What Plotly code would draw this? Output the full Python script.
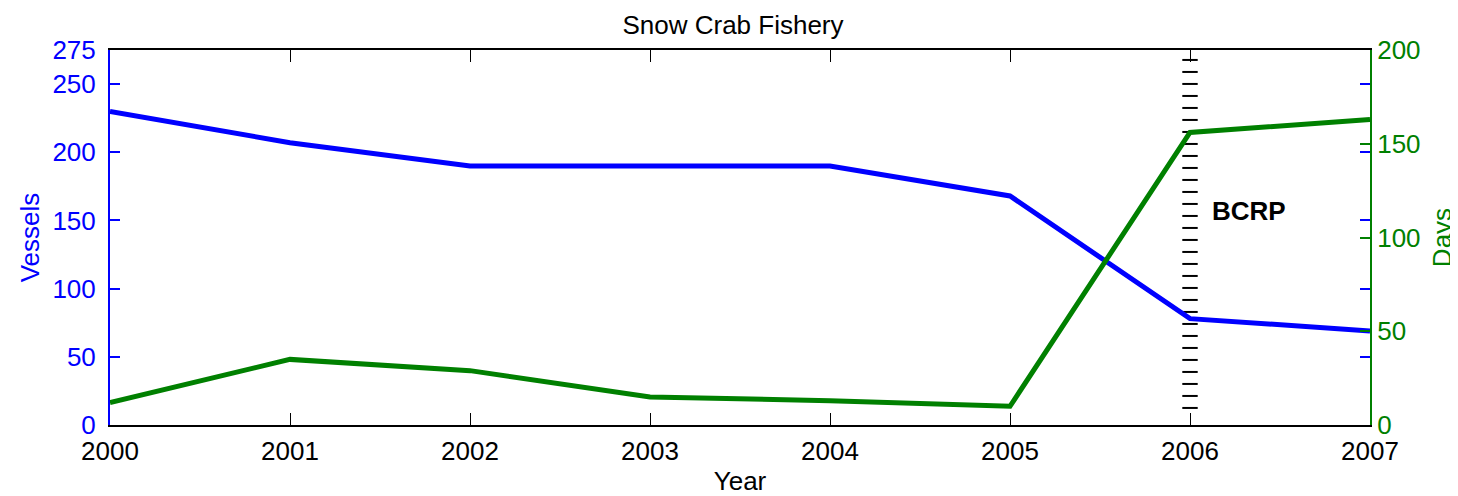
import plotly.graph_objects as go

years = [2000, 2001, 2002, 2003, 2004, 2005, 2006, 2007]
vessels = [230, 207, 190, 190, 190, 168, 78, 69]
days = [12, 35, 29, 15, 13, 10, 156, 163]

bcrp_year = 2006
bcrp_marks = [267.7, 258.9, 250.1, 241.3, 232.5, 223.7, 214.9, 206.1, 197.3, 188.5,
              179.7, 170.9, 162.1, 153.3, 144.5, 135.7, 126.9, 118.1, 109.3, 100.5,
              91.7, 82.9, 74.1, 65.3, 56.5, 47.7, 38.9, 30.1, 21.3, 12.5]

left_ticks = [0, 50, 100, 150, 200, 250, 275]
right_ticks = [0, 50, 100, 150, 200]

BLUE = "#0000ff"
GREEN = "#008000"
FONT = "Liberation Sans, Arial, Helvetica, sans-serif"
FS = 26

fig = go.Figure()
fig.add_trace(go.Scatter(x=[bcrp_year] * len(bcrp_marks), y=bcrp_marks, mode="markers",
                         marker=dict(symbol="line-ew", size=11, line=dict(color="black", width=2)),
                         showlegend=False, hoverinfo="skip"))
fig.add_trace(go.Scatter(x=years, y=vessels, mode="lines", line=dict(color=BLUE, width=5),
                         showlegend=False, name="Vessels"))
fig.add_trace(go.Scatter(x=years, y=days, mode="lines", line=dict(color=GREEN, width=5),
                         showlegend=False, name="Days", yaxis="y2"))

fig.add_annotation(x=2006.33, y=157, xref="x", yref="y", text="<b>BCRP</b>", showarrow=False,
                   font=dict(size=FS, color="black", family=FONT))

fig.update_layout(
    width=1450, height=488,
    margin=dict(l=102, r=88, t=42, b=71),
    plot_bgcolor="white", paper_bgcolor="white",
    font=dict(family=FONT, size=FS, color="black"),
    title=dict(text="Snow Crab Fishery", x=0.5, xanchor="center", y=0.965, yref="container",
               yanchor="middle", font=dict(size=FS, color="black")),
    xaxis=dict(range=[2000, 2007], tickvals=years, ticktext=[str(y) for y in years],
               ticks="inside", ticklen=12, tickcolor="black", tickwidth=1,
               showline=True, linecolor="black", linewidth=2, mirror="ticks",
               showgrid=False, zeroline=False, automargin=False, ticklabelstandoff=2,
               title=dict(text="Year", standoff=9, font=dict(size=FS)),
               tickfont=dict(size=FS, color="black")),
    yaxis=dict(range=[0, 275], tickvals=left_ticks, ticks="inside", ticklen=10,
               tickcolor=BLUE, tickwidth=2, showline=True, linecolor=BLUE, linewidth=2,
               mirror="ticks", showgrid=False, zeroline=False, automargin=False,
               ticklabelstandoff=7,
               title=dict(text="Vessels", standoff=5, font=dict(size=FS, color=BLUE)),
               tickfont=dict(size=FS, color=BLUE)),
    yaxis2=dict(range=[0, 200], tickvals=right_ticks, ticks="inside", ticklen=10,
                tickcolor=GREEN, tickwidth=2, showline=True, linecolor=GREEN, linewidth=2,
                overlaying="y", side="right", showgrid=False, zeroline=False, automargin=False,
                title=dict(text="Days", standoff=13, font=dict(size=FS, color=GREEN)),
                tickfont=dict(size=FS, color=GREEN)),
)

fig.write_html("out.html")
